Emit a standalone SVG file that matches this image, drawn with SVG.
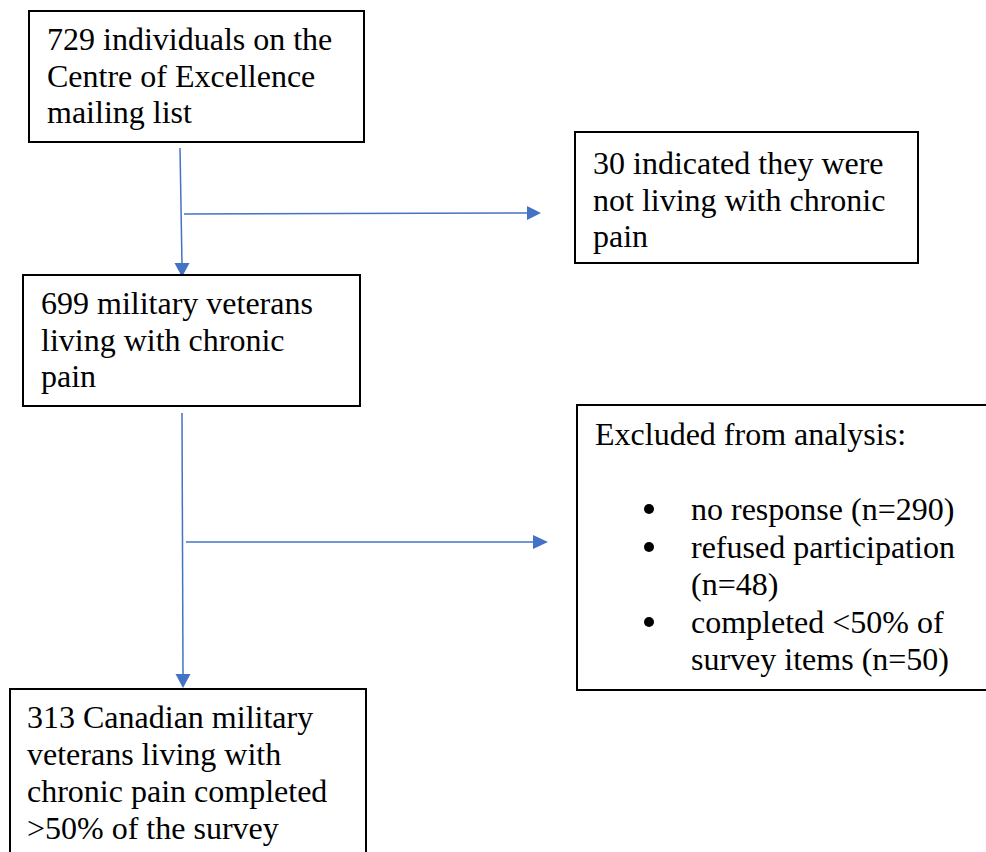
<svg xmlns="http://www.w3.org/2000/svg" width="986" height="852" viewBox="0 0 986 852">
<defs>
<style>
.box{fill:#fff;stroke:#000;stroke-width:2}
.t{font-size:32px;fill:#000}
.c{stroke:#4472C4;stroke-width:1.5;fill:none}
.h{fill:#4472C4}
</style>
</defs>
<rect width="986" height="852" fill="#fff"/>
<g id="connectors">
<line class="c" x1="180" y1="148" x2="182" y2="265"/>
<path class="h" d="M174.5,263 L189.5,263 L182,277 Z"/>
<line class="c" x1="184" y1="214" x2="528" y2="213"/>
<path class="h" d="M527,206 L541,213 L527,220 Z"/>
<line class="c" x1="182" y1="413" x2="183" y2="675"/>
<path class="h" d="M175.5,674 L190.5,674 L183,688 Z"/>
<line class="c" x1="186" y1="542" x2="534" y2="542"/>
<path class="h" d="M533,535 L548,542 L533,549 Z"/>
</g>
<g font-family="Liberation Serif, Times New Roman, DejaVu Serif, serif">
<g id="n1">
<rect class="box" x="29" y="11" width="335" height="131"/>
<text class="t" x="47" y="50">729 individuals on the</text>
<text class="t" x="47" y="87">Centre of Excellence</text>
<text class="t" x="47" y="123">mailing list</text>
</g>
<g id="n2">
<rect class="box" x="575" y="132" width="343" height="131"/>
<text class="t" x="593" y="174">30 indicated they were</text>
<text class="t" x="593" y="211">not living with chronic</text>
<text class="t" x="593" y="247">pain</text>
</g>
<g id="n3">
<rect class="box" x="23" y="275" width="337" height="131"/>
<text class="t" x="41" y="314">699 military veterans</text>
<text class="t" x="41" y="351">living with chronic</text>
<text class="t" x="41" y="387">pain</text>
</g>
<g id="n4">
<rect class="box" x="577" y="405" width="412" height="285"/>
<text class="t" x="595" y="445">Excluded from analysis:</text>
<circle cx="649" cy="509" r="5" fill="#000"/>
<text class="t" x="691" y="520">no response (n=290)</text>
<circle cx="649" cy="547" r="5" fill="#000"/>
<text class="t" x="691" y="558">refused participation</text>
<text class="t" x="691" y="595">(n=48)</text>
<circle cx="649" cy="622" r="5" fill="#000"/>
<text class="t" x="691" y="633">completed &lt;50% of</text>
<text class="t" x="691" y="670">survey items (n=50)</text>
</g>
<g id="n5">
<rect class="box" x="10" y="689" width="356" height="170"/>
<text class="t" x="27" y="728">313 Canadian military</text>
<text class="t" x="27" y="765">veterans living with</text>
<text class="t" x="27" y="802">chronic pain completed</text>
<text class="t" x="27" y="839">&gt;50% of the survey</text>
</g>
</g>
</svg>
